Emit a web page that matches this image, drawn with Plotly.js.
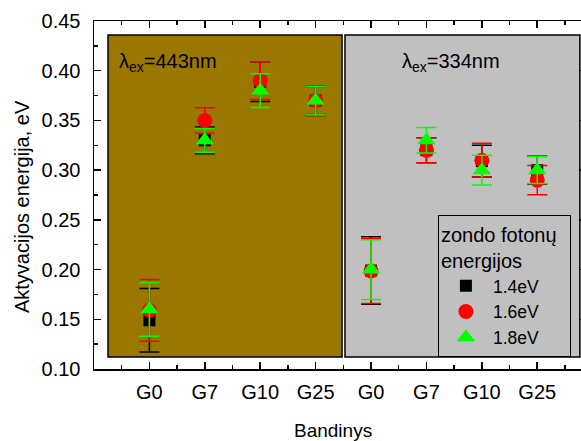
<!DOCTYPE html>
<html>
<head>
<meta charset="utf-8">
<script src="https://cdn.plot.ly/plotly-3.0.1.min.js"></script>
<style>
html, body { margin: 0; padding: 0; overflow: hidden; background: #fff; }
#chart { width: 586px; height: 441px; }
</style>
</head>
<body>
<div id="chart"></div>
<script>
// Data
const positions = [1, 2, 3, 4, 5, 6, 7, 8];
const tickLabels = ['G0', 'G7', 'G10', 'G25', 'G0', 'G7', 'G10', 'G25'];
const seriesNames = ['1.4eV', '1.6eV', '1.8eV'];
const e14 = [0.149, 0.330, 0.389, 0.370, 0.199, 0.320, 0.309, 0.300];
const e14err = [0.032, 0.0135, 0.020, 0.015, 0.034, 0.0126, 0.016, 0.014];
const e16 = [0.159, 0.350, 0.390, 0.370, 0.1985, 0.320, 0.310, 0.290];
const e16err = [0.031, 0.0128, 0.019, 0.014, 0.0325, 0.0126, 0.017, 0.0147];
const e18 = [0.160, 0.330, 0.380, 0.370, 0.200, 0.330, 0.300, 0.300];
const e18err = [0.027, 0.012, 0.017, 0.0145, 0.030, 0.0128, 0.015, 0.0135];

const FONT = 'Liberation Sans, Arial, sans-serif';

function trace(name, y, err, color, symbol, size) {
  return {
    x: positions, y: y, name: name, type: 'scatter', mode: 'markers',
    marker: { color: color, symbol: symbol, size: size, line: { width: 0 } },
    error_y: { type: 'data', array: err, visible: true, color: color, thickness: 1.5, width: 10 }
  };
}

const data = [
  trace(seriesNames[0], e14, e14err, '#000000', 'square', 12),
  trace(seriesNames[1], e16, e16err, '#ff0000', 'circle', 15),
  trace(seriesNames[2], e18, e18err, '#00ff00', 'triangle-up', 16)
];

const layout = {
  width: 586, height: 441,
  margin: { l: 94, r: 0, t: 21, b: 72 },
  paper_bgcolor: '#ffffff',
  plot_bgcolor: '#ffffff',
  font: { family: FONT, size: 20, color: '#000' },
  showlegend: true,
  legend: {
    x: 0.699, y: 0.443, xanchor: 'left', yanchor: 'top',
    bgcolor: '#c0c0c0', bordercolor: '#000', borderwidth: 1,
    font: { family: FONT, size: 17.5, color: '#000' },
    itemwidth: 44,
    title: { text: 'zondo fotonų&nbsp;&nbsp;<br>energijos', font: { family: FONT, size: 20 } },
    tracegroupgap: 0
  },
  xaxis: {
    range: [0, 8.88],
    tickmode: 'array', tickvals: positions, ticktext: tickLabels,
    ticks: 'inside', ticklen: 7, tickwidth: 1.5, tickcolor: '#000',
    showline: true, linecolor: '#000', linewidth: 1.5, mirror: 'allticks',
    showgrid: false, zeroline: false,
    ticklabelstandoff: 4,
    tickfont: { family: FONT, size: 20 },
    minor: { tickvals: [0.5, 1.5, 2.5, 3.5, 4.5, 5.5, 6.5, 7.5, 8.5], ticks: 'inside', ticklen: 4, tickwidth: 1.5, tickcolor: '#000', showgrid: false }
  },
  yaxis: {
    range: [0.10, 0.45],
    tickmode: 'linear', tick0: 0.1, dtick: 0.05, tickformat: '.2f',
    ticks: 'inside', ticklen: 7, tickwidth: 1.5, tickcolor: '#000',
    showline: true, linecolor: '#000', linewidth: 1.5, mirror: 'allticks',
    showgrid: false, zeroline: false,
    ticklabelstandoff: 8,
    tickfont: { family: FONT, size: 20 },
    minor: { tick0: 0.1, dtick: 0.025, ticks: 'inside', ticklen: 4, tickwidth: 1.5, tickcolor: '#000', showgrid: false }
  },
  shapes: [
    { type: 'rect', xref: 'x', yref: 'y', x0: 0.253, x1: 4.477, y0: 0.1121, y1: 0.4359,
      fillcolor: '#997700', line: { color: '#000', width: 1.5 }, layer: 'below' },
    { type: 'rect', xref: 'x', yref: 'y', x0: 4.53, x1: 8.77, y0: 0.1121, y1: 0.4359,
      fillcolor: '#c0c0c0', line: { color: '#000', width: 1.5 }, layer: 'below' }
  ],
  annotations: [
    { xref: 'paper', yref: 'paper', x: 0.047, y: 0.882, xanchor: 'left', yanchor: 'middle',
      text: 'λ<sub>ex</sub>=443nm', showarrow: false, font: { family: FONT, size: 20, color: '#000' } },
    { xref: 'paper', yref: 'paper', x: 0.622, y: 0.882, xanchor: 'left', yanchor: 'middle',
      text: 'λ<sub>ex</sub>=334nm', showarrow: false, font: { family: FONT, size: 20, color: '#000' } },
    { xref: 'paper', yref: 'paper', x: -0.1463, y: 0.4655, xanchor: 'center', yanchor: 'middle',
      text: 'Aktyvacijos energija, eV', textangle: -90, showarrow: false, font: { family: FONT, size: 20, color: '#000' } },
    { xref: 'paper', yref: 'paper', x: 0.486, y: -0.177, xanchor: 'center', yanchor: 'middle',
      text: 'Bandinys', showarrow: false, font: { family: FONT, size: 19, color: '#000' } }
  ]
};

Plotly.newPlot('chart', data, layout, { displayModeBar: false, staticPlot: true });
</script>
</body>
</html>
